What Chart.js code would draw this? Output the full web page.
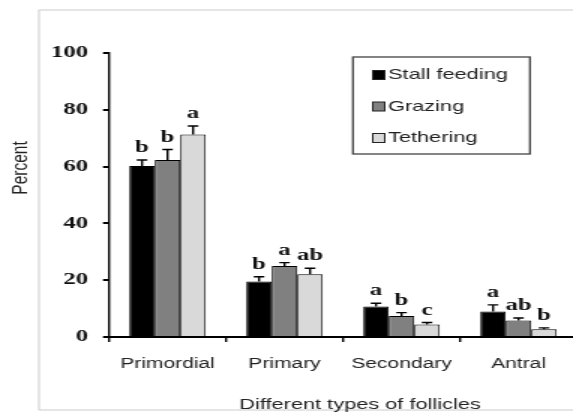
<!DOCTYPE html>
<html>
<head>
<meta charset="utf-8">
<script src="https://cdn.jsdelivr.net/npm/chart.js@4/dist/chart.umd.min.js"></script>
<style>
  html, body { margin: 0; padding: 0; background: #fff; overflow: hidden; }
  #wrap { width: 573px; height: 414px; overflow: hidden; }
</style>
</head>
<body>
<!-- the original figure is stretched sideways, so the canvas is drawn narrow and widened -->
<div id="wrap"><canvas id="chart" width="390" height="414" style="width:585px;height:414px"></canvas></div>
<script>
const categories = ["Primordial", "Primary", "Secondary", "Antral"];
const seriesNames = ["Stall feeding", "Grazing", "Tethering"];
const stallFeeding = [60.2, 19.5, 10.7, 9.0];
const grazing = [62.3, 25.0, 7.4, 5.8];
const tethering = [71.3, 22.1, 4.4, 2.7];
// upper error bar (SE)
const stallErr = [2.1, 1.7, 1.2, 2.3];
const grazingErr = [3.7, 1.2, 1.2, 0.9];
const tetheringErr = [3.0, 2.1, 0.7, 0.5];
// significance letters
const stallLetters = ["b", "b", "a", "a"];
const grazingLetters = ["b", "a", "b", "ab"];
const tetheringLetters = ["a", "ab", "c", "b"];
const yTicks = [0, 20, 40, 60, 80, 100];
const xTitle = "Different types of follicles";
const yTitle = "Percent";

const errors = [stallErr, grazingErr, tetheringErr];
const letters = [stallLetters, grazingLetters, tetheringLetters];
const colors = ["#000000", "#808080", "#d9d9d9"];
const sans = "'Liberation Sans', Arial, sans-serif";
const serif = "'Liberation Serif', 'Times New Roman', serif";

// light outer frame like the excel chart area, plus axis titles
const framePlugin = {
  id: "frame",
  beforeDraw(chart) {
    const ctx = chart.ctx;
    ctx.save();
    ctx.strokeStyle = "#d4d4d4";
    ctx.lineWidth = 1.2;
    ctx.strokeRect(26, 10, 500, 400);

    ctx.fillStyle = "#222";
    ctx.font = "14.5px " + sans;
    ctx.textAlign = "center";
    ctx.textBaseline = "middle";
    ctx.fillText(xTitle, 240, 405);

    ctx.translate(13.3, 168);
    ctx.rotate(-Math.PI / 2);
    ctx.font = "15.5px " + sans;
    ctx.fillText(yTitle, 0, 0);
    ctx.restore();
  }
};

// error bars + letters
const errorPlugin = {
  id: "errorBars",
  afterDatasetsDraw(chart) {
    const ctx = chart.ctx;
    const y = chart.scales.y;
    ctx.save();
    chart.data.datasets.forEach((ds, i) => {
      const meta = chart.getDatasetMeta(i);
      meta.data.forEach((bar, j) => {
        const top = y.getPixelForValue(ds.data[j] + errors[i][j]);
        ctx.strokeStyle = "#000";
        ctx.lineWidth = 1.4;
        ctx.beginPath();
        ctx.moveTo(bar.x, bar.y);
        ctx.lineTo(bar.x, top);
        ctx.moveTo(bar.x - 3.5, top);
        ctx.lineTo(bar.x + 3.5, top);
        ctx.stroke();
        ctx.fillStyle = "#111";
        ctx.font = "bold 16.5px " + serif;
        ctx.textAlign = "center";
        ctx.textBaseline = "alphabetic";
        ctx.fillText(letters[i][j], bar.x, top - 8);
      });
    });
    ctx.restore();
  }
};

// boxed legend at upper right
const legendPlugin = {
  id: "boxLegend",
  afterDraw(chart) {
    const ctx = chart.ctx;
    ctx.save();
    ctx.strokeStyle = "#444";
    ctx.lineWidth = 1.3;
    ctx.strokeRect(235.3, 57, 118, 97);
    ctx.font = "14.5px " + sans;
    ctx.textAlign = "left";
    ctx.textBaseline = "middle";
    chart.data.datasets.forEach((ds, i) => {
      const cy = 75 + i * 31.5;
      ctx.fillStyle = ds.backgroundColor;
      ctx.fillRect(248.5, cy - 4.5, 8, 9);
      ctx.strokeStyle = "#222";
      ctx.lineWidth = 1;
      ctx.strokeRect(248.5, cy - 4.5, 8, 9);
      ctx.fillStyle = "#1e1e1e";
      ctx.fillText(ds.label, 258.7, cy);
    });
    ctx.restore();
  }
};

new Chart(document.getElementById("chart"), {
  type: "bar",
  data: {
    labels: categories,
    datasets: [
      { label: seriesNames[0], data: stallFeeding, backgroundColor: colors[0], borderColor: "#000", borderWidth: 1 },
      { label: seriesNames[1], data: grazing, backgroundColor: colors[1], borderColor: "#000", borderWidth: 1 },
      { label: seriesNames[2], data: tethering, backgroundColor: colors[2], borderColor: "#000", borderWidth: 1 }
    ]
  },
  options: {
    responsive: false,
    devicePixelRatio: 1,
    animation: false,
    datasets: { bar: { categoryPercentage: 0.654, barPercentage: 1.0 } },
    layout: { padding: { top: 53, right: 5.3, bottom: 0, left: 0 } },
    plugins: {
      legend: { display: false },
      tooltip: { enabled: false }
    },
    scales: {
      x: {
        afterFit(scale) { scale.height = 77; },
        grid: { display: true, drawOnChartArea: false, drawTicks: true, tickLength: 5, offset: true, color: "#000", lineWidth: 1.4 },
        border: { display: true, color: "#000", width: 2 },
        ticks: { color: "#222", padding: 14, font: { family: sans, size: 14 } }
      },
      y: {
        min: 0,
        max: 100,
        afterFit(scale) { scale.width = 72.7; },
        afterBuildTicks(scale) { scale.ticks = yTicks.map(v => ({ value: v })); },
        grid: { display: true, drawOnChartArea: false, drawTicks: true, tickLength: 4, color: "#000", lineWidth: 2 },
        border: { display: true, color: "#000", width: 1.4 },
        ticks: { color: "#111", padding: 10, font: { family: serif, size: 16.5, weight: "bold" } }
      }
    }
  },
  plugins: [framePlugin, errorPlugin, legendPlugin]
});
</script>
</body>
</html>
